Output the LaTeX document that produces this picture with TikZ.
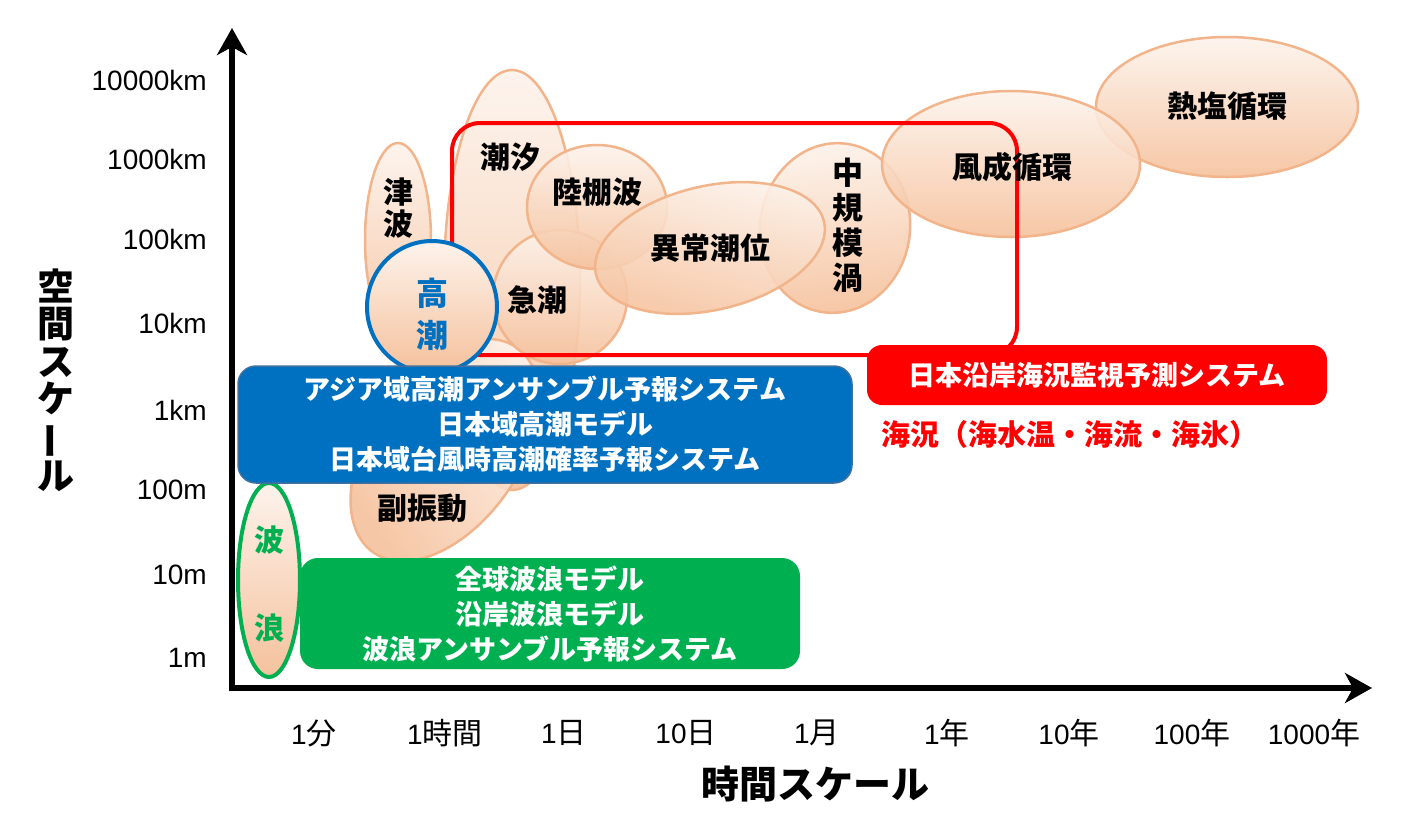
\documentclass[tikz,border=0pt]{standalone}
\usepackage{fontspec}
\usepackage{graphicx}
\setmainfont{Liberation Sans}
\newfontfamily\jp{Noto Sans CJK JP}
\usetikzlibrary{shapes.geometric,arrows.meta}
\definecolor{blobtop}{HTML}{FDF3EC}
\definecolor{blobbot}{HTML}{F5C19C}
\definecolor{blobline}{HTML}{F2B48A}
\definecolor{hblue}{HTML}{0070C0}
\definecolor{hboxline}{HTML}{41719C}
\definecolor{wgreen}{HTML}{00B050}
\definecolor{kred}{HTML}{FF0000}
\tikzset{
  blob/.style={ellipse, draw=blobline, line width=2.5, top color=blobtop, bottom color=blobbot, fill opacity=0.9, inner sep=0},
  lab/.style={font=\jp\bfseries\fontsize{30}{32}\selectfont, text=black, align=center, inner sep=0},
  sysbox/.style={rounded corners=18, text=white, align=center, inner sep=0, font=\jp\bfseries\fontsize{27}{35}\selectfont},
  ytick/.style={anchor=east, font=\fontsize{28}{30}\selectfont, inner sep=0},
  xtick/.style={font=\fontsize{28}{30}\selectfont, inner sep=0},
  axtitle/.style={font=\jp\bfseries\fontsize{38}{38}\selectfont, inner sep=0, align=center}
}
\newcommand{\jt}[1]{{\jp\fontsize{30}{30}\selectfont #1}}
\begin{document}
\begin{tikzpicture}[x=1pt,y=-1pt]
\useasboundingbox (0,0) rectangle (1424,823);
% ellipses
\node[blob, minimum width=136, minimum height=420] (chouseki) at (512,280) {};
\node[blob, minimum width=250, minimum height=150, rotate=55, shading angle=-55] (fuku) at (445,450) {};
\node[blob, minimum width=66, minimum height=194] (tsunami) at (398,240) {};
\node[blob, minimum width=134, minimum height=134] (kyucho) at (560,297) {};
\node[blob, minimum width=140, minimum height=124] (rikudana) at (597,207) {};
\node[blob, minimum width=150, minimum height=170, rotate=-8, shading angle=8] (chuki) at (835,228) {};
\node[blob, minimum width=234, minimum height=124, rotate=13, shading angle=-13] (ijo) at (710,248) {};
\node[blob, minimum width=262, minimum height=140] (netsuen) at (1227,107) {};
\node[blob, minimum width=258, minimum height=146] (fusei) at (1011,164) {};
% red monitoring frame
\node[draw=kred, line width=4, rounded corners=28, minimum width=565, minimum height=232, inner sep=0] (kaikyo) at (734.5,239) {};
% storm surge circle
\node[ellipse, draw=hblue, line width=4, top color=blobtop, bottom color=blobbot, minimum width=130, minimum height=132, inner sep=0] (takashio) at (432,307) {};
% wave ellipse
\node[ellipse, draw=wgreen, line width=4, top color=blobtop, bottom color=blobbot, minimum width=62, minimum height=194, inner sep=0] (haro) at (269,580) {};
% system boxes
\node[sysbox, fill=hblue, draw=hboxline, line width=1.5, minimum width=614, minimum height=117] (hbox) at (545,424.5)
  {アジア域高潮アンサンブル予報システム\\日本域高潮モデル\\日本域台風時高潮確率予報システム};
\node[sysbox, fill=wgreen, minimum width=500, minimum height=111] (gbox) at (550,613.5)
  {全球波浪モデル\\沿岸波浪モデル\\波浪アンサンブル予報システム};
\node[sysbox, rounded corners=15, fill=kred, minimum width=460, minimum height=60] (rbox) at (1097,375)
  {日本沿岸海況監視予測システム};
\node[anchor=west, inner sep=0, text=kred, font=\jp\bfseries\fontsize{29}{30}\selectfont] (kaikyotxt) at (881,434)
  {海況（海水温・海流・海氷）};
% labels
\node[lab] (t-chouseki) at (510,157) {潮汐};
\node[lab, font=\jp\bfseries\fontsize{30}{32}\selectfont] (t-tsunami) at (398,208) {津\\波};
\node[lab] (t-rikudana) at (597,192) {陸棚波};
\node[lab] (t-kyucho) at (537,300) {急潮};
\node[lab] (t-ijo) at (710,248) {異常潮位};
\node[lab, font=\jp\bfseries\fontsize{31}{35}\selectfont] (t-chuki) at (848,225) {中\\規\\模\\渦};
\node[lab] (t-fusei) at (1012,167) {風成循環};
\node[lab] (t-netsuen) at (1227,106) {熱塩循環};
\node[lab] (t-fuku) at (422,508) {副振動};
\node[lab, text=hblue, font=\jp\bfseries\fontsize{32}{42}\selectfont] (t-takashio) at (432,314) {高\\潮};
\node[lab, text=wgreen] (t-ha) at (269,540) {波};
\node[lab, text=wgreen] (t-ro) at (269,628) {浪};
% axes
\coordinate (ytip) at (232,28);
\coordinate (orig) at (232,688);
\coordinate (xtip) at (1372,688);
\draw[line width=5.5, {Stealth[length=27pt,width=30pt,inset=8pt]}-{Stealth[length=27pt,width=30pt,inset=8pt]}] (ytip) -- (orig) -- (xtip);
% y ticks
\node[ytick] (y1) at (207,80) {10000km};
\node[ytick] (y2) at (207,159) {1000km};
\node[ytick] (y3) at (207,239) {100km};
\node[ytick] (y4) at (207,323) {10km};
\node[ytick] (y5) at (207,410) {1km};
\node[ytick] (y6) at (207,490) {100m};
\node[ytick] (y7) at (207,575) {10m};
\node[ytick] (y8) at (207,658) {1m};
% x ticks
\node[xtick] (x1) at (314,733) {1\jt{分}};
\node[xtick] (x2) at (445,733) {1\jt{時間}};
\node[xtick] (x3) at (564,733) {1\jt{日}};
\node[xtick] (x4) at (686,733) {10\jt{日}};
\node[xtick] (x5) at (817,733) {1\jt{月}};
\node[xtick] (x6) at (947,733) {1\jt{年}};
\node[xtick] (x7) at (1069,733) {10\jt{年}};
\node[xtick] (x8) at (1192,733) {100\jt{年}};
\node[xtick] (x9) at (1314,733) {1000\jt{年}};
% axis titles
\node[axtitle] (xtitle) at (815,784) {時間スケール};
\node[axtitle, font=\jp\bfseries\fontsize{37}{37.5}\selectfont] (ytitle) at (56,380)
  {空\\間\\ス\\ケ\\\rotatebox[origin=c]{90}{ー}\\ル};
\end{tikzpicture}
\end{document}
